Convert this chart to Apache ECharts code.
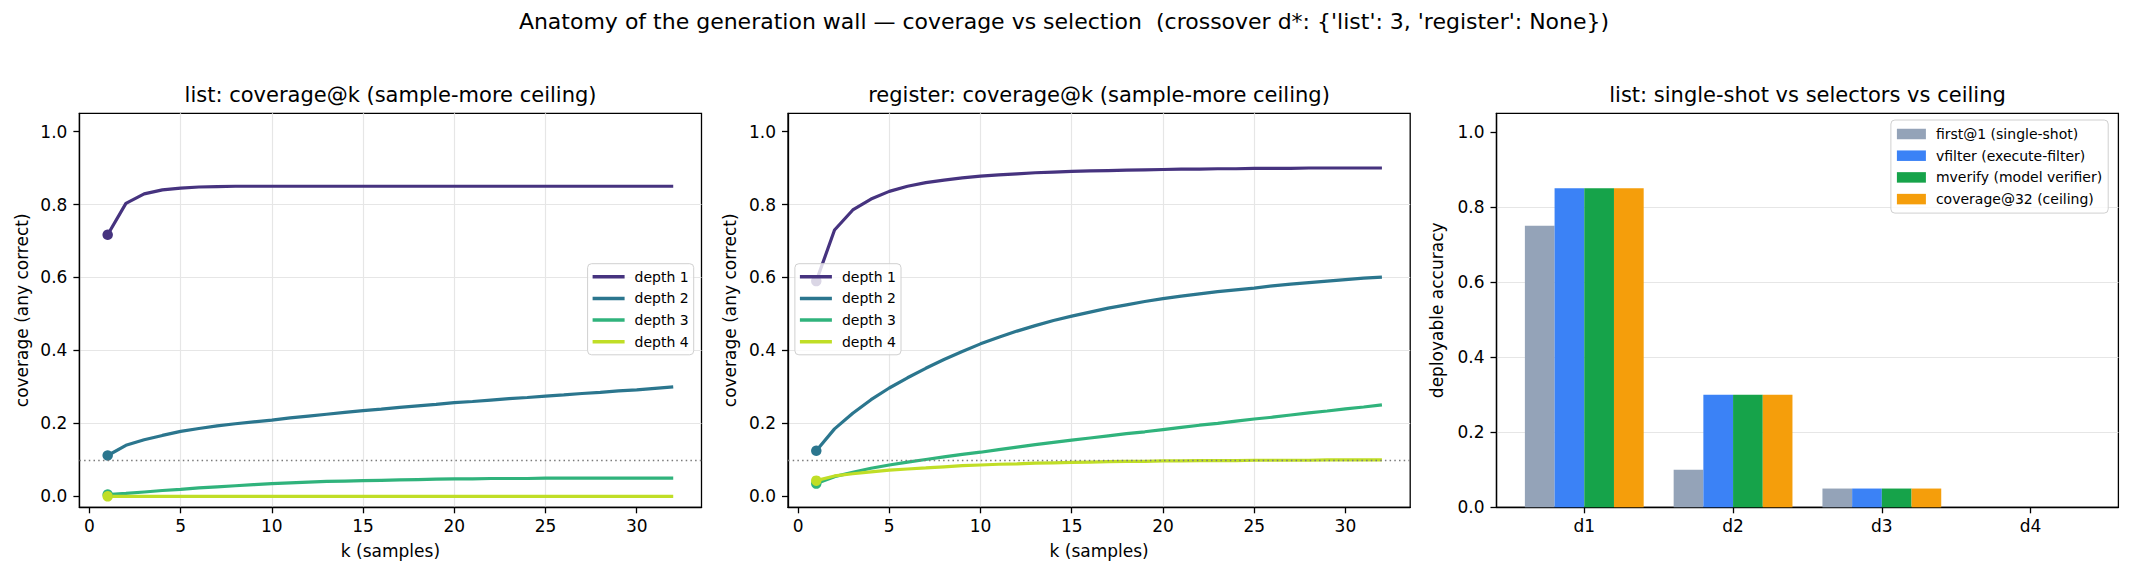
<!DOCTYPE html>
<html>
<head>
<meta charset="utf-8">
<title>generation wall</title>
<script src="https://cdn.jsdelivr.net/npm/echarts@6/dist/echarts.min.js"></script>
<style>
  html, body { margin: 0; padding: 0; background: #fff; }
  #chart { width: 2131px; height: 576px; }
</style>
</head>
<body>
<div id="chart"></div>
<script>
// k = number of samples
const ks = [1, 2, 3, 4, 5, 6, 7, 8, 9, 10, 11, 12, 13, 14, 15, 16,
  17, 18, 19, 20, 21, 22, 23, 24, 25, 26, 27, 28, 29, 30, 31, 32];

// list task, coverage@k per depth
const listDepth1 = [0.717, 0.803, 0.829, 0.840, 0.845, 0.848, 0.849, 0.850, 0.850, 0.850, 0.850, 0.850,
  0.850, 0.850, 0.850, 0.850, 0.850, 0.850, 0.850, 0.850, 0.850, 0.850, 0.850, 0.850,
  0.850, 0.850, 0.850, 0.850, 0.850, 0.850, 0.850, 0.850];
const listDepth2 = [0.112, 0.140, 0.155, 0.167, 0.178, 0.186, 0.193, 0.199, 0.204, 0.209, 0.215, 0.220,
  0.225, 0.230, 0.235, 0.239, 0.244, 0.248, 0.252, 0.257, 0.260, 0.264, 0.268, 0.271,
  0.275, 0.278, 0.282, 0.285, 0.289, 0.292, 0.296, 0.300];
const listDepth3 = [0.005, 0.008, 0.012, 0.016, 0.019, 0.023, 0.026, 0.029, 0.032, 0.035, 0.037, 0.039,
  0.041, 0.042, 0.043, 0.044, 0.045, 0.046, 0.047, 0.048, 0.048, 0.049, 0.049, 0.049,
  0.050, 0.050, 0.050, 0.050, 0.050, 0.050, 0.050, 0.050];
const listDepth4 = [0, 0, 0, 0, 0, 0, 0, 0, 0, 0, 0, 0, 0, 0, 0, 0,
  0, 0, 0, 0, 0, 0, 0, 0, 0, 0, 0, 0, 0, 0, 0, 0];

// register task, coverage@k per depth
const regDepth1 = [0.590, 0.730, 0.785, 0.815, 0.836, 0.850, 0.860, 0.867, 0.873, 0.878, 0.881, 0.884,
  0.887, 0.889, 0.891, 0.892, 0.893, 0.894, 0.895, 0.896, 0.897, 0.897, 0.898, 0.898,
  0.899, 0.899, 0.899, 0.900, 0.900, 0.900, 0.900, 0.900];
const regDepth2 = [0.125, 0.185, 0.228, 0.265, 0.297, 0.325, 0.351, 0.375, 0.397, 0.418, 0.436, 0.453,
  0.468, 0.482, 0.494, 0.505, 0.516, 0.525, 0.534, 0.542, 0.549, 0.555, 0.561, 0.566,
  0.571, 0.577, 0.582, 0.586, 0.590, 0.594, 0.598, 0.601];
const regDepth3 = [0.035, 0.054, 0.066, 0.077, 0.086, 0.094, 0.101, 0.108, 0.115, 0.121, 0.128, 0.135,
  0.142, 0.148, 0.154, 0.160, 0.166, 0.172, 0.177, 0.183, 0.189, 0.195, 0.200, 0.206,
  0.212, 0.217, 0.223, 0.229, 0.234, 0.240, 0.245, 0.251];
const regDepth4 = [0.043, 0.056, 0.062, 0.067, 0.072, 0.075, 0.078, 0.081, 0.084, 0.086, 0.088, 0.089,
  0.091, 0.092, 0.093, 0.094, 0.095, 0.096, 0.096, 0.097, 0.097, 0.098, 0.098, 0.098,
  0.099, 0.099, 0.099, 0.099, 0.100, 0.100, 0.100, 0.100];

const depthNames = ['depth 1', 'depth 2', 'depth 3', 'depth 4'];
const depthColors = ['#46337f', '#2b768e', '#30b37c', '#c0de26'];
const wallLevel = 0.1;

// list: deployable accuracy per depth bucket
const depthBuckets = ['d1', 'd2', 'd3', 'd4'];
const selectorNames = ['first@1 (single-shot)', 'vfilter (execute-filter)', 'mverify (model verifier)', 'coverage@32 (ceiling)'];
const selectorColors = ['#94a3b8', '#3b82f6', '#16a34a', '#f59e0b'];
const first1 = [0.75, 0.10, 0.05, 0];
const vfilter = [0.85, 0.30, 0.05, 0];
const mverify = [0.85, 0.30, 0.05, 0];
const coverage32 = [0.85, 0.30, 0.05, 0];

const kTicks = [0, 5, 10, 15, 20, 25, 30];
const yTicks = [0, 0.2, 0.4, 0.6, 0.8, 1.0];
const bucketTicks = [0, 1, 2, 3];

const FONT = 'DejaVu Sans';
const gridLine = {color: '#e6e6e6', width: 1.2};
const blackLine = {color: '#000', width: 1.3};

function onTick(v, step) {
  return Math.abs(v / step - Math.round(v / step)) < 1e-6;
}

function kAxis(grid) {
  return {
    type: 'value', gridIndex: grid, min: -0.55, max: 33.55, minInterval: 5, maxInterval: 5,
    name: 'k (samples)', nameLocation: 'middle', nameGap: 35,
    nameTextStyle: {fontFamily: FONT, fontSize: 17, color: '#000'},
    axisLine: {show: true, onZero: false, lineStyle: blackLine},
    axisTick: {show: true, length: 6, lineStyle: blackLine, customValues: kTicks},
    axisLabel: {
      fontFamily: FONT, fontSize: 17, color: '#000', margin: 10, customValues: kTicks,
      formatter: v => onTick(v, 5) && v >= 0 && v <= 30 ? String(Math.round(v)) : ''
    },
    splitLine: {show: true, showMinLine: false, showMaxLine: false, lineStyle: gridLine}
  };
}

function accAxis(grid, min, name, gap) {
  return {
    type: 'value', gridIndex: grid, min: min, max: 1.05, minInterval: 0.2, maxInterval: 0.2,
    name: name, nameLocation: 'middle', nameGap: gap,
    nameTextStyle: {fontFamily: FONT, fontSize: 17, color: '#000'},
    axisLine: {show: true, onZero: false, lineStyle: blackLine},
    axisTick: {show: true, length: 6, lineStyle: blackLine, customValues: yTicks},
    axisLabel: {
      fontFamily: FONT, fontSize: 17, color: '#000', margin: 12, customValues: yTicks,
      formatter: v => onTick(v, 0.2) && v >= 0 && v <= 1.0001 ? v.toFixed(1) : ''
    },
    splitLine: {show: true, showMinLine: false, showMaxLine: false, lineStyle: gridLine}
  };
}

function depthSeries(values, idx, grid, withWall) {
  const s = {
    name: depthNames[idx], type: 'line', xAxisIndex: grid, yAxisIndex: grid,
    symbol: 'none', showSymbol: true, animation: false,
    lineStyle: {width: 3.2, color: depthColors[idx]},
    itemStyle: {color: depthColors[idx]},
    data: values.map((v, i) => i === 0
      ? {value: [ks[i], v], symbol: 'circle', symbolSize: 10.5}
      : [ks[i], v])
  };
  if (withWall) {
    s.markLine = {
      silent: true, symbol: 'none', animation: false,
      label: {show: false},
      lineStyle: {color: '#7a7a7a', type: [1.5, 3.2], width: 1.3},
      data: [{yAxis: wallLevel}]
    };
  }
  return s;
}

function barSeries(values, idx) {
  return {
    name: selectorNames[idx], type: 'bar', xAxisIndex: 2, yAxisIndex: 2,
    barWidth: 29.7, barGap: '0%', animation: false,
    itemStyle: {color: selectorColors[idx]},
    data: values.map((v, i) => [bucketTicks[i], v])
  };
}

function legendAt(left, top, names, iconW, iconH, padding) {
  return {
    left: left, top: top, orient: 'vertical', selectedMode: false,
    icon: 'rect', itemWidth: iconW, itemHeight: iconH, itemGap: 5.7,
    padding: padding, backgroundColor: 'rgba(255,255,255,0.8)',
    borderColor: '#d0d0d0', borderWidth: 1, borderRadius: 4,
    textStyle: {fontFamily: FONT, fontSize: 14, lineHeight: 16, color: '#000', padding: [0, 0, 0, 5]},
    data: names
  };
}

const titleStyle = {fontFamily: FONT, fontSize: 21, fontWeight: 'normal', color: '#000'};

const option = {
  backgroundColor: '#fff',
  animation: false,
  title: [
    {text: "Anatomy of the generation wall \u2014 coverage vs selection  (crossover d*: {'list': 3, 'register': None})",
      left: 1064, top: 10, textAlign: 'center', padding: 0,
      textStyle: Object.assign({}, titleStyle, {fontSize: 22})},
    {text: 'list: coverage@k (sample-more ceiling)', left: 390.5, top: 84, textAlign: 'center', padding: 0, textStyle: titleStyle},
    {text: 'register: coverage@k (sample-more ceiling)', left: 1099, top: 84, textAlign: 'center', padding: 0, textStyle: titleStyle},
    {text: 'list: single-shot vs selectors vs ceiling', left: 1807.5, top: 84, textAlign: 'center', padding: 0, textStyle: titleStyle}
  ],
  grid: [
    {left: 79.4, top: 113.3, width: 622.1, height: 394, show: true, borderColor: '#000', borderWidth: 1.3, backgroundColor: 'transparent'},
    {left: 788, top: 113.3, width: 622.2, height: 394, show: true, borderColor: '#000', borderWidth: 1.3, backgroundColor: 'transparent'},
    {left: 1496.5, top: 113.3, width: 621.9, height: 394, show: true, borderColor: '#000', borderWidth: 1.3, backgroundColor: 'transparent'}
  ],
  xAxis: [
    kAxis(0),
    kAxis(1),
    {
      type: 'value', gridIndex: 2, min: -0.59, max: 3.59, minInterval: 1, maxInterval: 1,
      axisLine: {show: true, onZero: false, lineStyle: blackLine},
      axisTick: {show: true, length: 6, lineStyle: blackLine, customValues: bucketTicks},
      axisLabel: {
        fontFamily: FONT, fontSize: 17, color: '#000', margin: 10, customValues: bucketTicks,
        formatter: v => (onTick(v, 1) && v >= 0 && v <= 3) ? depthBuckets[Math.round(v)] : ''
      },
      splitLine: {show: false}
    }
  ],
  yAxis: [
    accAxis(0, -0.03, 'coverage (any correct)', 49),
    accAxis(1, -0.03, 'coverage (any correct)', 50),
    accAxis(2, 0, 'deployable accuracy', 51)
  ],
  legend: [
    legendAt(587.6, 263.7, depthNames, 32, 3.5, [5, 5, 5, 5]),
    legendAt(794.9, 263.7, depthNames, 32, 3.5, [5, 5, 5, 5]),
    legendAt(1890.9, 120, selectorNames, 29, 10.5, [6, 6, 6, 6])
  ],
  series: [
    depthSeries(listDepth1, 0, 0, true),
    depthSeries(listDepth2, 1, 0, false),
    depthSeries(listDepth3, 2, 0, false),
    depthSeries(listDepth4, 3, 0, false),
    depthSeries(regDepth1, 0, 1, true),
    depthSeries(regDepth2, 1, 1, false),
    depthSeries(regDepth3, 2, 1, false),
    depthSeries(regDepth4, 3, 1, false),
    barSeries(first1, 0),
    barSeries(vfilter, 1),
    barSeries(mverify, 2),
    barSeries(coverage32, 3)
  ]
};

const chart = echarts.init(document.getElementById('chart'), null, {renderer: 'svg'});
chart.setOption(option);
</script>
</body>
</html>
